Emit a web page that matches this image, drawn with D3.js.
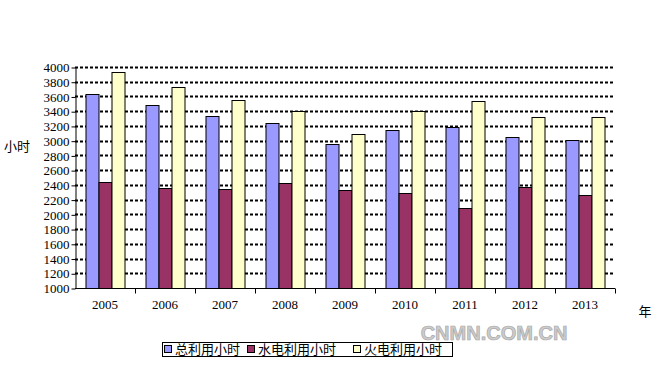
<!DOCTYPE html>
<html>
<head>
<meta charset="utf-8">
<script src="https://d3js.org/d3.v7.min.js"></script>
<style>
  body { margin: 0; background: #fff; }
  svg { display: block; }
</style>
</head>
<body>
<svg id="drawing_region"></svg>
<script>
const years = ['2005', '2006', '2007', '2008', '2009', '2010', '2011', '2012', '2013'];
const seriesNames = ['总利用小时', '水电利用小时', '火电利用小时'];
const totalHours = [3640, 3490, 3340, 3235, 2950, 3150, 3190, 3055, 3005];
const hydroHours = [2435, 2355, 2340, 2420, 2325, 2285, 2085, 2370, 2260];
const thermalHours = [3935, 3735, 3555, 3400, 3095, 3405, 3545, 3315, 3315];
const yTicks = d3.range(1000, 4001, 200);
const colors = ['#9999ff', '#993366', '#ffffcc'];

const config = {
    width: 659,
    height: 371,
    margin: {top: 67, left: 75}
};

const svg = d3.select('#drawing_region')
    .attr('width', config.width)
    .attr('height', config.height);

const inner_width = 540;
const inner_height = 221;

const chart = svg.append('g')
    .attr('transform', `translate(${config.margin.left},${config.margin.top})`);

const xscale = d3.scaleBand()
    .domain(years)
    .range([0, inner_width])
    .paddingInner(0.35)
    .paddingOuter(0.175);

const xsub = d3.scaleBand()
    .domain([0, 1, 2])
    .range([0, xscale.bandwidth()]);

const yscale = d3.scaleLinear()
    .domain([1000, 4000])
    .range([inner_height, 0]);

// dashed grid lines
chart.append('g')
    .selectAll('line')
    .data(yTicks.slice(1))
    .join('line')
    .attr('x1', 0)
    .attr('x2', inner_width)
    .attr('y1', d => Math.round(yscale(d)) + 0.5)
    .attr('y2', d => Math.round(yscale(d)) + 0.5)
    .attr('stroke', '#000')
    .attr('stroke-width', 2)
    .attr('stroke-dasharray', '3,2');

// bars
const series = [totalHours, hydroHours, thermalHours];
const groups = chart.append('g')
    .selectAll('g')
    .data(years)
    .join('g')
    .attr('transform', d => `translate(${xscale(d)},0)`);

groups.selectAll('rect')
    .data((d, i) => series.map((s, k) => ({k: k, v: s[i]})))
    .join('rect')
    .attr('x', d => Math.round(xsub(d.k)) + 0.5)
    .attr('y', d => Math.round(yscale(d.v)) + 0.5)
    .attr('width', Math.round(xsub.bandwidth()))
    .attr('height', d => Math.round(yscale(1000)) - Math.round(yscale(d.v)))
    .attr('fill', d => colors[d.k])
    .attr('stroke', '#000')
    .attr('stroke-width', 1);

// y axis
const yaxis = chart.append('g')
    .attr('transform', 'translate(0.5,0.5)')
    .call(d3.axisLeft(yscale).tickValues(yTicks).tickSize(4).tickSizeOuter(0).tickFormat(d3.format('d')));
yaxis.selectAll('text')
    .style('font-family', '"Liberation Serif", serif')
    .style('font-size', '13px')
    .attr('fill', '#000')
    .attr('x', -6);
yaxis.selectAll('line').attr('stroke', '#000');
yaxis.select('.domain').attr('stroke', '#000');

// x axis
const step = xscale.step();
const xaxis_g = chart.append('g')
    .attr('transform', `translate(0,${Math.round(yscale(1000)) + 0.5})`);
xaxis_g.append('line')
    .attr('x1', 0).attr('x2', inner_width)
    .attr('stroke', '#000');
xaxis_g.selectAll('.tick')
    .data(years)
    .join('line')
    .attr('class', 'tick')
    .attr('x1', (d, i) => Math.round(step * (i + 1)) + 0.5)
    .attr('x2', (d, i) => Math.round(step * (i + 1)) + 0.5)
    .attr('y1', 0).attr('y2', 5)
    .attr('stroke', '#000');
xaxis_g.selectAll('text')
    .data(years)
    .join('text')
    .attr('x', d => xscale(d) + xscale.bandwidth() / 2)
    .attr('y', 20)
    .attr('text-anchor', 'middle')
    .style('font-family', '"Liberation Serif", serif')
    .style('font-size', '13px')
    .text(d => d);

// axis titles
svg.append('text')
    .attr('x', 17).attr('y', 151)
    .attr('text-anchor', 'middle')
    .style('font-family', '"Noto Sans CJK SC", sans-serif')
    .style('font-size', '13px')
    .text('小时');
svg.append('text')
    .attr('x', 645).attr('y', 316)
    .attr('text-anchor', 'middle')
    .style('font-family', '"Noto Sans CJK SC", sans-serif')
    .style('font-size', '13px')
    .text('年');

// watermark
svg.append('text')
    .attr('x', 494).attr('y', 340)
    .attr('text-anchor', 'middle')
    .style('font-family', '"Liberation Sans", Arial, sans-serif')
    .style('font-size', '20px')
    .style('font-weight', 'bold')
    .attr('fill', '#cccccc')
    .attr('stroke', '#a8a8a8')
    .attr('stroke-width', 0.7)
    .text('CNMN.COM.CN');

// legend
const legend = svg.append('g').attr('transform', 'translate(162,342)');
legend.append('rect')
    .attr('x', 0.5).attr('y', 0.5)
    .attr('width', 290).attr('height', 14)
    .attr('fill', '#fff')
    .attr('stroke', '#000');
const legendX = [2, 85, 191];
const items = legend.selectAll('g.item')
    .data(seriesNames)
    .join('g')
    .attr('class', 'item')
    .attr('transform', (d, i) => `translate(${legendX[i]},0)`);
items.append('rect')
    .attr('x', 0.5).attr('y', 3.5)
    .attr('width', 7).attr('height', 7)
    .attr('fill', (d, i) => colors[i])
    .attr('stroke', '#000');
items.append('text')
    .attr('x', 11).attr('y', 12)
    .style('font-family', '"Noto Sans CJK SC", sans-serif')
    .style('font-size', '13px')
    .text(d => d);
</script>
</body>
</html>
